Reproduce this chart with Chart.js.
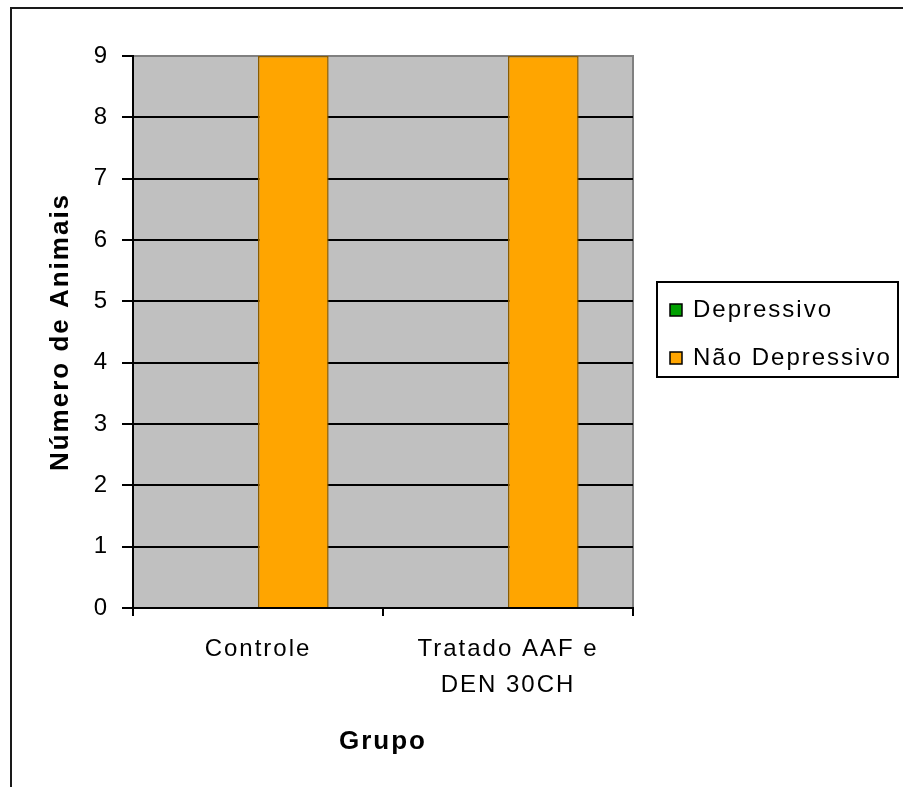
<!DOCTYPE html>
<html>
<head>
<meta charset="utf-8">
<script src="https://cdn.jsdelivr.net/npm/chart.js@4/dist/chart.umd.min.js"></script>
<style>
  html, body { margin: 0; padding: 0; background: #fff; overflow: hidden; }
  #wrap { position: relative; width: 903px; height: 787px; }
  #frame { position: absolute; left: 10px; top: 7px; width: 1000px; height: 1000px; border: 2px solid #1a1a1a; box-sizing: border-box; }
  canvas { position: absolute; left: 0; top: 0; }
</style>
</head>
<body>
<div id="wrap">
  <div id="frame"></div>
  <canvas id="c" width="903" height="787"></canvas>
</div>
<script>
const categories = [["Controle"], ["Tratado AAF e", "DEN 30CH"]];
const seriesNames = ["Depressivo", "Não Depressivo"];
const depressivo = [0, 0];
const naoDepressivo = [9, 9];
const yTicks = [0, 1, 2, 3, 4, 5, 6, 7, 8, 9];
const xTitle = "Grupo";
const yTitle = "Número de Animais";

const FONT = "'Liberation Sans', Arial, sans-serif";
Chart.defaults.color = '#000';
Chart.defaults.font.family = FONT;

const bgPlugin = {
  id: 'bg',
  beforeDraw(chart) {
    const ctx = chart.ctx;
    ctx.letterSpacing = '2px';
    const a = chart.chartArea;
    ctx.save();
    ctx.fillStyle = '#C0C0C0';
    ctx.fillRect(a.left, a.top, a.right - a.left, a.bottom - a.top);
    ctx.strokeStyle = '#808080';
    ctx.lineWidth = 2;
    ctx.strokeRect(a.left, a.top, a.right - a.left, a.bottom - a.top);
    ctx.restore();
  }
};

const legendPlugin = {
  id: 'boxLegend',
  afterDraw(chart) {
    const ctx = chart.ctx;
    const a = chart.chartArea;
    const x0 = a.right + 24, y0 = 282, w = 241, h = 95;
    ctx.save();
    ctx.letterSpacing = '2px';
    ctx.strokeStyle = '#000';
    ctx.lineWidth = 2;
    ctx.strokeRect(x0, y0, w, h);
    ctx.font = '24px ' + FONT;
    ctx.textBaseline = 'middle';
    ctx.textAlign = 'left';
    chart.data.datasets.forEach((ds, i) => {
      const cy = y0 + 28 + i * 48;
      ctx.fillStyle = ds.backgroundColor;
      ctx.fillRect(x0 + 13, cy - 6, 12, 12);
      ctx.lineWidth = 1.5;
      ctx.strokeStyle = '#000';
      ctx.strokeRect(x0 + 13, cy - 6, 12, 12);
      ctx.fillStyle = '#000';
      ctx.fillText(ds.label, x0 + 36, cy);
    });
    ctx.restore();
  }
};

new Chart(document.getElementById('c'), {
  type: 'bar',
  data: {
    labels: categories,
    datasets: [
      { label: seriesNames[0], data: depressivo, backgroundColor: '#00A000', borderColor: '#004400', borderWidth: 0 },
      { label: seriesNames[1], data: naoDepressivo, backgroundColor: '#FFA500', borderColor: '#8A5C00', borderWidth: 1.5, borderSkipped: 'start' }
    ]
  },
  options: {
    responsive: false,
    animation: false,
    devicePixelRatio: 1,
    layout: { padding: { top: 56, right: 270, left: 0, bottom: 0 } },
    plugins: { legend: { display: false }, tooltip: { enabled: false } },
    datasets: { bar: { barPercentage: 1, categoryPercentage: 0.565 } },
    scales: {
      x: {
        afterFit(s) { s.height = 179; },
        grid: { offset: true, drawOnChartArea: false, drawTicks: true, tickLength: 8, color: '#000', lineWidth: 2 },
        border: { color: '#000', width: 2 },
        ticks: { font: { size: 24, lineHeight: 1.5 }, padding: 15, maxRotation: 0, autoSkip: false, color: '#000' },
        title: { display: true, text: xTitle, font: { size: 26, weight: 'bold', lineHeight: 1.2 }, padding: { top: 0, bottom: 30 }, color: '#000' }
      },
      y: {
        min: 0, max: 9,
        afterFit(s) { s.width = 133; },
        afterBuildTicks(s) { s.ticks = yTicks.map(v => ({ value: v })); },
        grid: {
          color: (c) => (c.tick && c.tick.value === 9 ? '#808080' : '#000'),
          tickColor: '#000',
          lineWidth: 2,
          drawTicks: true, tickLength: 11
        },
        border: { color: '#000', width: 2 },
        ticks: { stepSize: 1, font: { size: 24 }, padding: 13, color: '#000' },
        title: { display: true, text: yTitle, font: { size: 26, weight: 'bold', lineHeight: 1.2 }, padding: { top: 45, bottom: 0 }, color: '#000' }
      }
    }
  },
  plugins: [bgPlugin, legendPlugin]
});
</script>
</body>
</html>
